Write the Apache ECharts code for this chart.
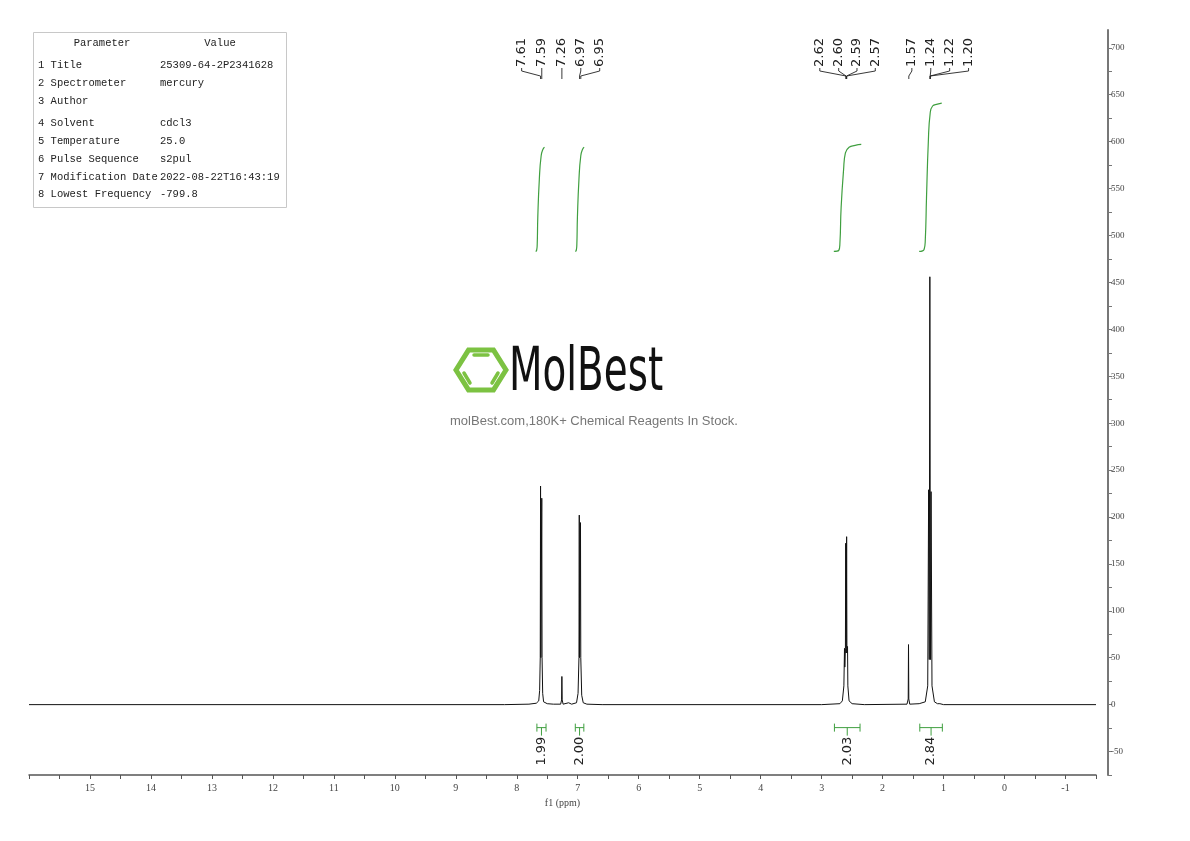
<!DOCTYPE html>
<html>
<head>
<meta charset="utf-8">
<script src="https://cdn.jsdelivr.net/npm/echarts@6/dist/echarts.min.js"></script>
<style>html,body{margin:0;height:100%;background:#fff}#main{width:1190px;height:841px}</style>
</head>
<body>
<div id="main"></div>
<script>
// spectrum points [ppm, intensity]
var spectrum = [
  [16, 0], [8.2, 0], [7.8, 0.5], [7.68, 1.5], [7.64, 4], [7.625, 15], [7.615, 50], [7.61, 233], [7.605, 50],
  [7.595, 50], [7.59, 220], [7.585, 50], [7.575, 12], [7.56, 3], [7.5, 1], [7.4, 0.5],
  [7.28, 0.5], [7.265, 5], [7.26, 30], [7.255, 5], [7.24, 0.5], [7.15, 2], [7.1, 0.5],
  [7.02, 2], [6.995, 12], [6.98, 50], [6.975, 202], [6.97, 50], [6.96, 50], [6.955, 194], [6.95, 50],
  [6.935, 10], [6.91, 2], [6.85, 0.5], [6.6, 0], [3.0, 0], [2.7, 1], [2.66, 4], [2.635, 20],
  [2.625, 60], [2.62, 40], [2.61, 60], [2.605, 172], [2.6, 55], [2.595, 60], [2.59, 179],
  [2.585, 55], [2.575, 62], [2.57, 20], [2.55, 4], [2.5, 1], [2.3, 0], [1.6, 0.5], [1.58, 6],
  [1.575, 64], [1.57, 6], [1.555, 0.5], [1.4, 1], [1.385, 3], [1.37, 1], [1.3, 3], [1.26, 20],
  [1.245, 229], [1.235, 48], [1.225, 456], [1.215, 48], [1.205, 227], [1.19, 20], [1.15, 3],
  [1.1, 1], [1.08, 3], [1.06, 1], [1.0, 0], [-1.5, 0]
];
// integral curves [ppm, value]
var integral1 = [[7.69, 483], [7.675, 484], [7.665, 490], [7.655, 520], [7.63, 560], [7.6, 585], [7.57, 592], [7.545, 594]];
var integral2 = [[7.04, 483], [7.025, 484], [7.015, 490], [7.005, 520], [6.98, 560], [6.95, 585], [6.92, 592], [6.895, 594]];
var integral3 = [[2.8, 483], [2.72, 484], [2.7, 492], [2.68, 530], [2.64, 570], [2.61, 588], [2.55, 594], [2.45, 596], [2.35, 597]];
var integral4 = [[1.4, 483], [1.32, 485], [1.3, 495], [1.28, 540], [1.25, 600], [1.22, 630], [1.18, 638], [1.1, 640], [1.03, 641]];
// integration ranges [from, to, label]
var integrals = [[7.67, 7.52, '1.99'], [7.04, 6.9, '2.00'], [2.79, 2.37, '2.03'], [1.39, 1.02, '2.84']];
// peak labels [peak ppm, label ppm, text]
var peaks = [
  [7.61, 7.92, '7.61'], [7.59, 7.59, '7.59'], [7.26, 7.26, '7.26'], [6.97, 6.95, '6.97'], [6.95, 6.64, '6.95'],
  [2.60, 3.03, '2.62'], [2.60, 2.72, '2.60'], [2.59, 2.42, '2.59'], [2.59, 2.12, '2.57'],
  [1.57, 1.52, '1.57'], [1.22, 1.21, '1.24'], [1.22, 0.90, '1.22'], [1.22, 0.59, '1.20']
];
var params = [
  ['1 Title', '25309-64-2P2341628'], ['2 Spectrometer', 'mercury'], ['3 Author', ''],
  ['4 Solvent', 'cdcl3'], ['5 Temperature', '25.0'], ['6 Pulse Sequence', 's2pul'],
  ['7 Modification Date', '2022-08-22T16:43:19'], ['8 Lowest Frequency', '-799.8']
];

var green = '#3f9f3f';
var serif = '"Liberation Serif","DejaVu Serif",serif';
var mono = '"Liberation Mono","DejaVu Sans Mono",monospace';
var sans = '"DejaVu Sans","Noto Sans",sans-serif';

var chart = echarts.init(document.getElementById('main'));

var tableEls = [
  { type: 'rect', shape: { x: 33.5, y: 32.5, width: 253, height: 175 }, style: { fill: '#fff', stroke: '#c8c8c8', lineWidth: 1 } },
  { type: 'text', x: 102, y: 43, style: { text: 'Parameter', font: '10.5px ' + mono, fill: '#222', textAlign: 'center', textVerticalAlign: 'middle' } },
  { type: 'text', x: 220, y: 43, style: { text: 'Value', font: '10.5px ' + mono, fill: '#222', textAlign: 'center', textVerticalAlign: 'middle' } }
];
var rowY = [65, 83, 101, 123, 141, 159, 177, 194];
params.forEach(function (p, i) {
  tableEls.push({ type: 'text', x: 38, y: rowY[i], style: { text: p[0], font: '10.5px ' + mono, fill: '#222', textVerticalAlign: 'middle' } });
  tableEls.push({ type: 'text', x: 160, y: rowY[i], style: { text: p[1], font: '10.5px ' + mono, fill: '#222', textVerticalAlign: 'middle' } });
});

// logo
var hex = [];
for (var k = 0; k < 6; k++) {
  var a = Math.PI / 3 * k;
  hex.push([481 + 25 * Math.cos(a), 370 + 23 * Math.sin(a)]);
}
tableEls.push({ type: 'polygon', shape: { points: hex }, style: { fill: 'none', stroke: '#7cc242', lineWidth: 5 } });
tableEls.push({ type: 'line', shape: { x1: 474, y1: 355, x2: 488, y2: 355 }, style: { stroke: '#7cc242', lineWidth: 3.5, lineCap: 'round' } });
tableEls.push({ type: 'line', shape: { x1: 464, y1: 373, x2: 470, y2: 383 }, style: { stroke: '#7cc242', lineWidth: 3.5, lineCap: 'round' } });
tableEls.push({ type: 'line', shape: { x1: 498, y1: 373, x2: 492, y2: 383 }, style: { stroke: '#7cc242', lineWidth: 3.5, lineCap: 'round' } });
tableEls.push({ type: 'text', x: 509, y: 374, scaleX: 0.72, style: { text: 'MolBest', font: '60px "Liberation Sans Narrow","DejaVu Sans Condensed",sans-serif', fill: '#111', textVerticalAlign: 'middle' } });
tableEls.push({ type: 'text', x: 594, y: 421, style: { text: 'molBest.com,180K+ Chemical Reagents In Stock.', font: '13px "Liberation Sans",Arial,sans-serif', fill: '#777', textAlign: 'center', textVerticalAlign: 'middle' } });

function integralLine(d) {
  return { type: 'line', data: d, smooth: true, symbol: 'none', lineStyle: { color: green, width: 1.2 }, z: 3, silent: true };
}

chart.setOption({
  animation: false,
  grid: { left: 29, right: 94, top: 30, bottom: 66 },
  xAxis: {
    type: 'value', min: -1.5, max: 16, interval: 0.5, inverse: true,
    axisLine: { onZero: false, lineStyle: { color: '#555', width: 1.5 } },
    axisTick: { length: 4, lineStyle: { color: '#555' } },
    axisLabel: { color: '#444', fontFamily: serif, fontSize: 10, margin: 8,
      formatter: function (v) { return (Number.isInteger(v) && v !== 16) ? String(v) : ''; } },
    splitLine: { show: false },
    name: 'f1 (ppm)', nameLocation: 'middle', nameGap: 22,
    nameTextStyle: { color: '#444', fontFamily: serif, fontSize: 10 }
  },
  yAxis: {
    type: 'value', position: 'right', offset: 12, min: -75, max: 719, interval: 25,
    axisLine: { show: true, onZero: false, lineStyle: { color: '#777', width: 2 } },
    axisTick: { show: true, length: 4, lineStyle: { color: '#777' } },
    axisLabel: { color: '#444', fontFamily: serif, fontSize: 9, margin: 3, showMaxLabel: false,
      formatter: function (v) { return v % 50 === 0 ? String(v) : ''; } },
    splitLine: { show: false }
  },
  graphic: tableEls,
  series: [
    { type: 'line', data: spectrum, symbol: 'none', lineStyle: { color: '#111', width: 1 }, z: 2, silent: true },
    integralLine(integral1), integralLine(integral2), integralLine(integral3), integralLine(integral4),
    {
      type: 'custom', data: integrals, silent: true, z: 4,
      renderItem: function (params, api) {
        var p1 = api.coord([api.value(0), -24.5]);
        var p2 = api.coord([api.value(1), -24.5]);
        var cx = (p1[0] + p2[0]) / 2, y = p1[1];
        var st = { stroke: green, lineWidth: 1 };
        return { type: 'group', children: [
          { type: 'line', shape: { x1: p1[0], y1: y, x2: p2[0], y2: y }, style: st },
          { type: 'line', shape: { x1: p1[0], y1: y - 4, x2: p1[0], y2: y + 4 }, style: st },
          { type: 'line', shape: { x1: p2[0], y1: y - 4, x2: p2[0], y2: y + 4 }, style: st },
          { type: 'line', shape: { x1: cx, y1: y, x2: cx, y2: y + 8 }, style: st },
          { type: 'text', x: cx, y: y + 38, rotation: Math.PI / 2,
            style: { text: integrals[params.dataIndex][2], font: '13px ' + sans, fill: '#222', textAlign: 'left', textVerticalAlign: 'middle' } }
        ] };
      }
    },
    {
      type: 'custom', data: peaks, silent: true, z: 4,
      renderItem: function (params, api) {
        var pk = api.coord([api.value(0), 670]);
        var lb = api.coord([api.value(1), 670]);
        var yb = api.coord([0, 719])[1] + 37;
        return { type: 'group', children: [
          { type: 'polyline', shape: { points: [[lb[0], yb + 1], [lb[0], yb + 4], [pk[0], yb + 9], [pk[0], yb + 12]] },
            style: { stroke: '#222', lineWidth: 0.9, fill: null } },
          { type: 'text', x: lb[0], y: yb, rotation: Math.PI / 2,
            style: { text: peaks[params.dataIndex][2], font: '13px ' + sans, fill: '#222', textAlign: 'left', textVerticalAlign: 'middle' } }
        ] };
      }
    }
  ]
});
</script>
</body>
</html>
